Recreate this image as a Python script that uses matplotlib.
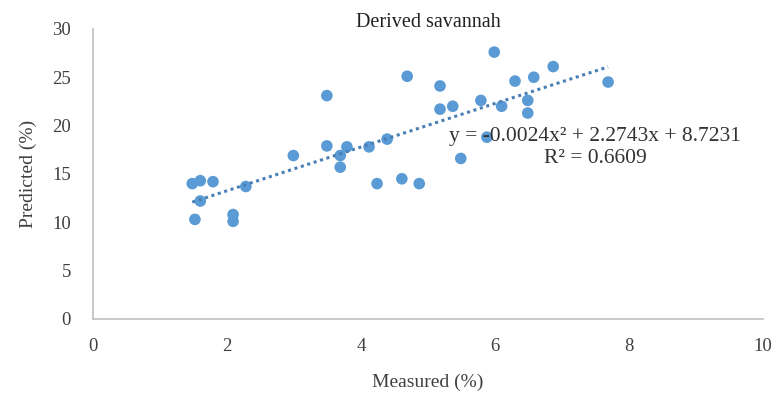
import numpy as np
import matplotlib.pyplot as plt

plt.rcParams['font.family'] = ['Liberation Serif', 'DejaVu Serif']

# measured vs predicted values (%)
measured = [1.48, 1.60, 1.79, 1.60, 1.52, 2.09, 2.09, 2.28, 2.99, 3.49, 3.49, 3.69,
            3.69, 3.79, 4.12, 4.39, 4.24, 4.61, 4.87, 4.69, 5.18, 5.18, 5.37, 5.79,
            5.99, 6.10, 6.30, 6.58, 6.87, 6.49, 6.49, 7.69, 5.88, 5.49]
predicted = [14.0, 14.3, 14.2, 12.2, 10.3, 10.8, 10.1, 13.7, 16.9, 23.1, 17.9, 16.9,
             15.7, 17.8, 17.8, 18.6, 14.0, 14.5, 14.0, 25.1, 24.1, 21.7, 22.0, 22.6,
             27.6, 22.0, 24.6, 25.0, 26.1, 22.6, 21.3, 24.5, 18.8, 16.6]

# polynomial trend line shown on the chart
coef = [-0.0024, 2.2743, 8.7231]

fig = plt.figure(figsize=(7.76, 4.01), dpi=100)
ax = fig.add_axes([0.12, 0.2045, 0.863, 0.7235])

xs = np.linspace(min(measured), max(measured), 100)
ax.plot(xs, np.polyval(coef, xs), color='#4a7fb5', linestyle=(0, (1, 1.2)), linewidth=2.2, zorder=3)
ax.scatter(measured, predicted, s=70, color='#5b9bd5', edgecolors='none', zorder=2)

ax.set_xlim(0, 10)
ax.set_ylim(0, 30)
ax.set_xticks([0, 2, 4, 6, 8, 10])
ax.set_yticks([0, 5, 10, 15, 20, 25, 30])
ax.tick_params(length=0, labelsize=13.5, colors='#404040')
ax.tick_params(axis='y', pad=16)
ax.tick_params(axis='x', pad=14)
for s in ['top', 'right']:
    ax.spines[s].set_visible(False)
for s in ['left', 'bottom']:
    ax.spines[s].set_color('#bfbfbf')
    ax.spines[s].set_linewidth(1.2)

ax.set_xlabel('Measured (%)', fontsize=14, color='#404040', labelpad=13)
ax.set_ylabel('Predicted (%)', fontsize=14, color='#404040', labelpad=11)
ax.text(0.5, 1.055, 'Derived savannah', transform=ax.transAxes, ha='center', va='top',
        fontsize=14.5, color='#222222')
ax.text(7.5, 17.7, 'y = -0.0024x² + 2.2743x + 8.7231\nR² = 0.6609', ha='center', va='center',
        fontsize=15.5, color='#333333', linespacing=1.2, zorder=4)

fig.savefig('out.png', dpi=100)
